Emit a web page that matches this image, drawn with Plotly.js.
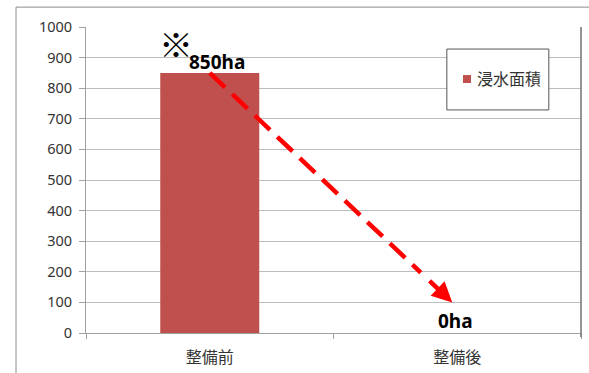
<!DOCTYPE html>
<html>
<head>
<meta charset="utf-8">
<script src="https://cdn.plot.ly/plotly-3.0.1.min.js"></script>
<style>
  html, body { margin: 0; padding: 0; background: #ffffff; }
  #chart { width: 589px; height: 373px; }
</style>
</head>
<body>
<div id="chart"></div>
<script>
// Flooded area before / after the improvement works
const categories = ['整備前', '整備後'];
const floodArea = [850, 0];
const valueLabels = ['850ha', '0ha'];
const seriesName = '浸水面積';
const yTicks = [0, 100, 200, 300, 400, 500, 600, 700, 800, 900, 1000];

// dashed trend arrow: from the top of the first bar down towards the second category
const arrowStart = [0, floodArea[0]];
const arrowEnd = [0.98, 100];

const barColor = '#c0504d';
const arrowColor = '#ff0000';
const textFont = 'Noto Sans, Open Sans, sans-serif';
const cjkFont = 'Noto Sans CJK JP, sans-serif';

const trace = {
  type: 'bar',
  x: categories,
  y: floodArea,
  name: seriesName,
  width: 0.4,
  showlegend: false,
  marker: { color: barColor, line: { width: 0 } },
  hoverinfo: 'none'
};

// the arrowhead is drawn over a short solid segment ending at the tip
const headBack = 0.1;
const headTail = [
  arrowEnd[0] - (arrowEnd[0] - arrowStart[0]) * headBack,
  arrowEnd[1] - (arrowEnd[1] - arrowStart[1]) * headBack
];
const lineStop = [
  arrowEnd[0] - (arrowEnd[0] - arrowStart[0]) * 0.13,
  arrowEnd[1] - (arrowEnd[1] - arrowStart[1]) * 0.13
];

const layout = {
  width: 589,
  height: 373,
  margin: { l: 86, r: 8, t: 27, b: 40, pad: 0 },
  paper_bgcolor: '#ffffff',
  plot_bgcolor: '#ffffff',
  font: { family: textFont, size: 14, color: '#333333' },
  showlegend: false,
  xaxis: {
    type: 'category',
    range: [-0.5, 1.5],
    tickson: 'boundaries',
    ticks: 'outside',
    ticklen: 5,
    tickcolor: '#a0a0a0',
    showline: true,
    linecolor: '#a0a0a0',
    linewidth: 1,
    showgrid: false,
    ticklabelstandoff: 10,
    tickfont: { family: cjkFont, size: 16, color: '#333333' },
    fixedrange: true
  },
  yaxis: {
    range: [0, 1000],
    tickvals: yTicks,
    ticks: 'outside',
    ticklen: 6,
    tickcolor: '#a0a0a0',
    showline: true,
    linecolor: '#a0a0a0',
    linewidth: 1,
    showgrid: true,
    gridcolor: '#bdbdbd',
    gridwidth: 1,
    zeroline: false,
    ticklabelstandoff: 4,
    tickfont: { family: textFont, size: 14.5, color: '#333333' },
    fixedrange: true
  },
  shapes: [
    // outer chart frame
    { type: 'rect', xref: 'paper', yref: 'paper', x0: -0.1414, x1: 1.05, y0: -0.2, y1: 1.065,
      line: { color: '#8c8c8c', width: 1 }, layer: 'below' },
    // right border of the plot area
    { type: 'line', xref: 'paper', yref: 'paper', x0: 1, x1: 1, y0: -0.013, y1: 1,
      line: { color: '#707070', width: 1.5 } },
    // legend frame
    { type: 'rect', xref: 'paper', yref: 'paper', x0: 0.729, x1: 0.935, y0: 0.729, y1: 0.928,
      fillcolor: '#ffffff', line: { color: '#555555', width: 1 }, layer: 'above' },
    // legend swatch
    { type: 'rect', xref: 'paper', yref: 'paper', x0: 0.7616, x1: 0.7778, y0: 0.817, y1: 0.843,
      fillcolor: barColor, line: { width: 0 }, layer: 'above' },
    // dashed part of the arrow
    { type: 'line', xref: 'x', yref: 'y',
      x0: arrowStart[0], y0: arrowStart[1], x1: lineStop[0], y1: lineStop[1],
      line: { color: arrowColor, width: 4.5, dash: '21px,10px' } }
  ],
  annotations: [
    // legend label
    { xref: 'paper', yref: 'paper', x: 0.786, y: 0.832, text: seriesName,
      showarrow: false, xanchor: 'left', yanchor: 'middle',
      font: { family: cjkFont, size: 16, color: '#333333' } },
    // arrowhead
    { xref: 'x', yref: 'y', axref: 'x', ayref: 'y',
      x: arrowEnd[0], y: arrowEnd[1], ax: headTail[0], ay: headTail[1],
      text: '', showarrow: true, arrowhead: 2, arrowsize: 0.9, arrowwidth: 4.5,
      arrowcolor: arrowColor },
    { xref: 'x', yref: 'y', x: 0, y: floodArea[0], text: valueLabels[0],
      showarrow: false, xanchor: 'center', yanchor: 'bottom', xshift: 7, yshift: -4,
      font: { family: textFont, size: 19, color: '#000000', weight: 'bold' } },
    { xref: 'x', yref: 'y', x: 1, y: floodArea[1], text: valueLabels[1],
      showarrow: false, xanchor: 'center', yanchor: 'bottom', xshift: -2, yshift: -3,
      font: { family: textFont, size: 19, color: '#000000', weight: 'bold' } },
    { xref: 'x', yref: 'y', x: 0, y: floodArea[0], text: '※',
      showarrow: false, xanchor: 'center', yanchor: 'middle', xshift: -34, yshift: 29,
      font: { family: cjkFont, size: 34, color: '#000000' } }
  ]
};

Plotly.newPlot('chart', [trace], layout, { staticPlot: true, displayModeBar: false });
</script>
</body>
</html>
